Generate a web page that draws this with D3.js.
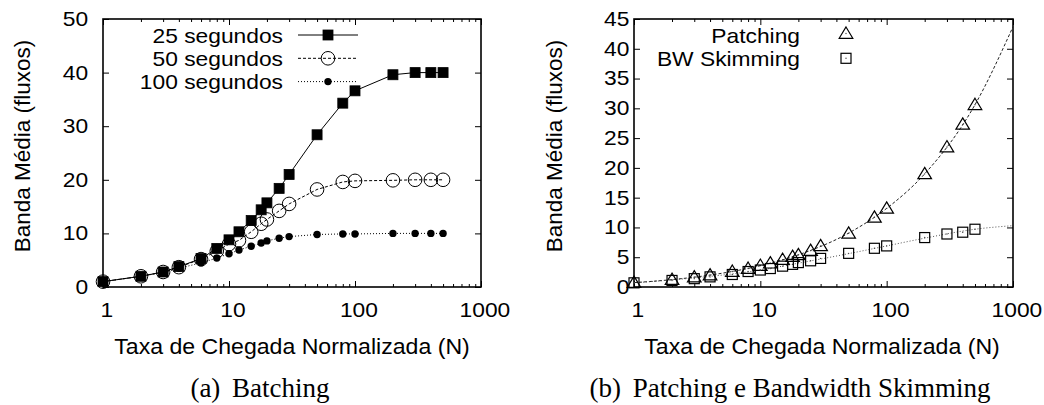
<!DOCTYPE html>
<html>
<head>
<meta charset="utf-8">
<script src="https://cdn.jsdelivr.net/npm/d3@7"></script>
<style>
  body { margin: 0; background: #fff; }
  svg { display: block; }
</style>
</head>
<body>
<script>
// Data
const arrivalRates = [1, 2, 3, 4, 6, 8, 10, 12, 15, 18, 20, 25, 30, 50, 80, 100, 200, 300, 400, 500];

// (a) Batching
const batch25 = [1, 2, 2.8, 3.8, 5.3, 7.2, 8.8, 10.3, 12.4, 14.4, 15.7, 18.4, 21.0, 28.4, 34.3, 36.6, 39.6, 40, 40, 40];
const batch50 = [1, 2, 2.8, 3.7, 5.2, 6.7, 8.0, 8.7, 10.3, 11.8, 12.6, 14.2, 15.5, 18.2, 19.6, 19.8, 19.9, 20, 20, 20];
const batch100 = [1, 2, 2.7, 3.5, 4.5, 5.4, 6.2, 6.9, 7.6, 8.2, 8.6, 9.1, 9.4, 9.8, 9.9, 9.9, 10, 10, 10, 10];

// (b) Patching e Bandwidth Skimming
const patching = [0.73, 1.24, 1.65, 2.0, 2.6, 3.1, 3.6, 4.0, 4.6, 5.1, 5.4, 6.1, 6.9, 9.0, 11.7, 13.2, 19.0, 23.5, 27.3, 30.6];
const skimming = [0.7, 1.1, 1.4, 1.7, 2.1, 2.6, 2.85, 3.1, 3.5, 3.8, 4.1, 4.4, 4.8, 5.65, 6.5, 6.9, 8.3, 8.9, 9.2, 9.7];
const fitRates = [1, 2, 5, 10, 20, 50, 100, 200, 500, 1000];
const patchingFit = [0.73, 1.24, 2.32, 3.58, 5.4, 9.05, 13.2, 19.0, 30.6, 43.7];
const skimmingFit = [0.7, 1.2, 2.0, 2.85, 4.0, 5.6, 6.9, 8.2, 9.7, 10.3];

const xTickValues = [1, 10, 100, 1000];
const yTicksA = [0, 10, 20, 30, 40, 50];
const yTicksB = [0, 5, 10, 15, 20, 25, 30, 35, 40, 45];
const legendA = ["25 segundos", "50 segundos", "100 segundos"];
const legendB = ["Patching", "BW Skimming"];

const width = 1044;
const height = 405;
const sans = "'Liberation Sans', Arial, Helvetica, sans-serif";
const serif = "'Liberation Serif', 'Times New Roman', serif";
const stretch = "scale(1.14,1)";

const svg = d3.select("body").append("svg")
    .attr("width", width)
    .attr("height", height);

const minorTicks = [];
[1, 10, 100].forEach(d => { for (let k = 2; k <= 9; k++) minorTicks.push(d * k); });

function drawFrame(x, y, yTicks, yPad) {
    const [x0, x1] = x.range();
    const [y0, y1] = y.range();
    const g = svg.append("g");

    // minor ticks bottom and top
    g.append("g").attr("transform", `translate(0,${y0})`)
        .call(d3.axisBottom(x).tickValues(minorTicks).tickSize(-3).tickFormat(""));
    g.append("g").attr("transform", `translate(0,${y1})`)
        .call(d3.axisTop(x).tickValues(minorTicks).tickSize(-3).tickFormat(""));
    g.append("g").attr("transform", `translate(0,${y1})`)
        .call(d3.axisTop(x).tickValues(xTickValues).tickSize(-6).tickFormat(""));

    const xAxis = g.append("g").attr("transform", `translate(0,${y0})`)
        .call(d3.axisBottom(x).tickValues(xTickValues).tickSize(-6).tickPadding(16).tickFormat(d3.format("d")));
    const yAxis = g.append("g").attr("transform", `translate(${x0},0)`)
        .call(d3.axisLeft(y).tickValues(yTicks).tickSize(-6).tickPadding(yPad));
    g.append("g").attr("transform", `translate(${x1},0)`)
        .call(d3.axisRight(y).tickValues(yTicks).tickSize(-6).tickFormat(""));

    g.selectAll(".domain").remove();
    g.selectAll(".tick line").attr("stroke", "#000").attr("stroke-width", 1);
    [xAxis, yAxis].forEach(a => {
        a.attr("font-family", sans).attr("font-size", 20);
        a.selectAll("text").attr("fill", "#000").attr("transform", stretch);
    });
    // labels under the x axis sit a little right of their ticks
    xAxis.selectAll("text").attr("x", 3);

    g.append("rect")
        .attr("x", x0).attr("y", y1)
        .attr("width", x1 - x0).attr("height", y0 - y1)
        .attr("fill", "none").attr("stroke", "#000").attr("stroke-width", 1.6);
}

function axisTitles(x, y, titleX, titleY, capX, caption) {
    const [x0, x1] = x.range();
    const [y0, y1] = y.range();
    svg.append("text")
        .attr("transform", `translate(${titleX},354) scale(1.05,1)`)
        .attr("text-anchor", "middle")
        .attr("font-family", sans).attr("font-size", 22)
        .text("Taxa de Chegada Normalizada (N)");
    svg.append("text")
        .attr("transform", `translate(${titleY},${(y0 + y1) / 2 - 7}) rotate(-90)`)
        .attr("text-anchor", "middle")
        .attr("font-family", sans).attr("font-size", 22.5)
        .text("Banda Média (fluxos)");
    const cap = svg.append("text")
        .attr("x", capX).attr("y", 397)
        .attr("text-anchor", "middle")
        .attr("font-family", serif).attr("font-size", 27);
    cap.append("tspan").text(caption[0]);
    cap.append("tspan").attr("dx", 5).text(caption[1]);
}

function square(g, cx, cy, s, filled) {
    g.append("rect")
        .attr("x", cx - s / 2).attr("y", cy - s / 2)
        .attr("width", s).attr("height", s)
        .attr("fill", filled ? "#000" : "none")
        .attr("stroke", "#000").attr("stroke-width", filled ? 0.8 : 1.2);
}

function triangle(g, cx, cy) {
    g.append("path")
        .attr("d", `M${cx},${cy - 6.5}L${cx + 6.8},${cy + 4.8}L${cx - 6.8},${cy + 4.8}Z`)
        .attr("fill", "none").attr("stroke", "#000").attr("stroke-width", 1.2);
}

function centerDot(g, cx, cy) {
    g.append("circle").attr("cx", cx).attr("cy", cy).attr("r", 0.7).attr("fill", "#444");
}

// ---------- (a) Batching ----------
const xA = d3.scaleLog().domain([1, 1000]).range([103, 481]);
const yA = d3.scaleLinear().domain([0, 50]).range([287, 19]);
drawFrame(xA, yA, yTicksA, 13);

const seriesA = [
    { name: legendA[0], values: batch25, dash: null, marker: "square" },
    { name: legendA[1], values: batch50, dash: "3,2", marker: "open" },
    { name: legendA[2], values: batch100, dash: "1,2", marker: "dot" }
];

function markerA(g, type, cx, cy) {
    if (type === "square") square(g, cx, cy, 10, true);
    else if (type === "open") g.append("circle").attr("cx", cx).attr("cy", cy).attr("r", 6.8)
        .attr("fill", "none").attr("stroke", "#000").attr("stroke-width", 1);
    else g.append("circle").attr("cx", cx).attr("cy", cy).attr("r", 3.7).attr("fill", "#000");
}

const lineA = d3.line().x(d => xA(d[0])).y(d => yA(d[1]));
const plotA = svg.append("g");
seriesA.forEach((s, i) => {
    const pts = arrivalRates.map((r, j) => [r, s.values[j]]);
    plotA.append("path")
        .attr("d", lineA(pts))
        .attr("fill", "none")
        .attr("stroke", "#000")
        .attr("stroke-width", 1)
        .attr("stroke-dasharray", s.dash);
    pts.forEach(p => markerA(plotA, s.marker, xA(p[0]), yA(p[1])));

    // legend row
    const ly = 35 + i * 23.3;
    svg.append("text")
        .attr("transform", `translate(283,${ly}) ${stretch}`)
        .attr("dy", "0.38em")
        .attr("text-anchor", "end")
        .attr("font-family", sans).attr("font-size", 20)
        .text(s.name);
    svg.append("line")
        .attr("x1", 298).attr("x2", 358).attr("y1", ly).attr("y2", ly)
        .attr("stroke", "#000").attr("stroke-width", 1)
        .attr("stroke-dasharray", s.dash);
    markerA(svg, s.marker, 328, ly);
});

axisTitles(xA, yA, 292, 30, 260, ["(a)", " Batching"]);

// ---------- (b) Patching e Bandwidth Skimming ----------
const xB = d3.scaleLog().domain([1, 1000]).range([634, 1013]);
const yB = d3.scaleLinear().domain([0, 45]).range([287, 19]);
drawFrame(xB, yB, yTicksB, 4);

const fitLine = d3.line().x(d => xB(d[0])).y(d => yB(d[1])).curve(d3.curveMonotoneX);
const plotB = svg.append("g");
plotB.append("path")
    .attr("d", fitLine(fitRates.map((r, j) => [r, patchingFit[j]])))
    .attr("fill", "none").attr("stroke", "#222").attr("stroke-width", 1)
    .attr("stroke-dasharray", "3,2");
plotB.append("path")
    .attr("d", fitLine(fitRates.map((r, j) => [r, skimmingFit[j]])))
    .attr("fill", "none").attr("stroke", "#555").attr("stroke-width", 1)
    .attr("stroke-dasharray", "1,2");

arrivalRates.forEach((r, j) => {
    triangle(plotB, xB(r), yB(patching[j]));
    centerDot(plotB, xB(r), yB(patching[j]));
});
arrivalRates.forEach((r, j) => {
    square(plotB, xB(r), yB(skimming[j]), 10, false);
    centerDot(plotB, xB(r), yB(skimming[j]));
});

legendB.forEach((name, i) => {
    const ly = 35 + i * 23.3;
    svg.append("text")
        .attr("transform", `translate(800,${ly}) ${stretch}`)
        .attr("dy", "0.38em")
        .attr("text-anchor", "end")
        .attr("font-family", sans).attr("font-size", 20)
        .text(name);
    if (i === 0) triangle(svg, 846, ly - 1.5);
    else square(svg, 846, ly, 10, false);
    centerDot(svg, 846, i === 0 ? ly - 1.5 : ly);
});

axisTitles(xB, yB, 822, 562, 790, ["(b)", " Patching e Bandwidth Skimming"]);
</script>
</body>
</html>
